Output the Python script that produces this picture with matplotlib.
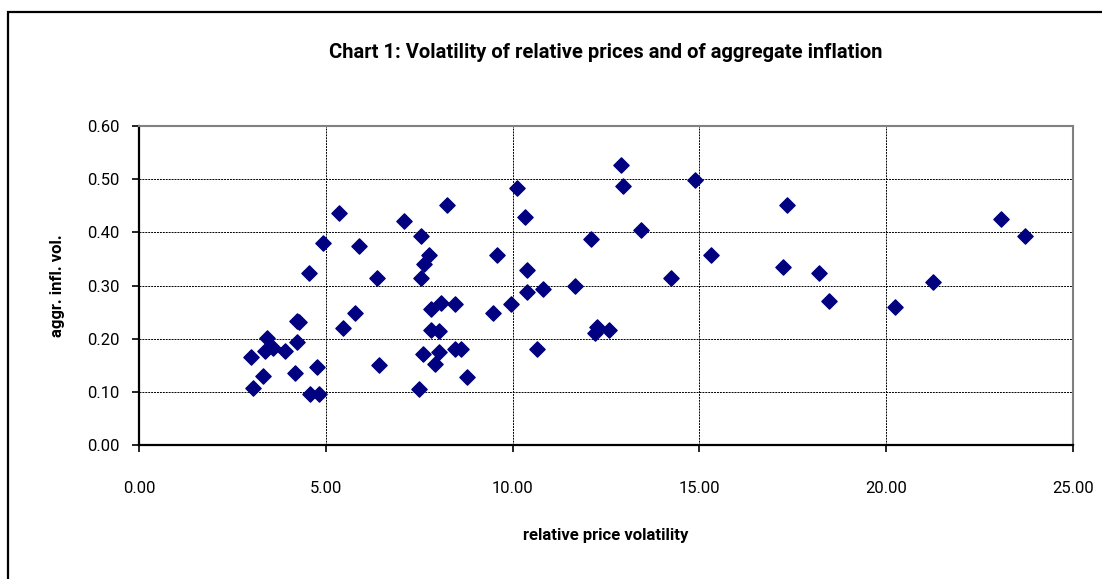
import matplotlib.pyplot as plt
from matplotlib.patches import Rectangle
from matplotlib import font_manager

# relative price volatility vs aggregate inflation volatility
rel_price_vol = [3.00, 3.05, 3.31, 3.36, 3.42, 3.60, 3.91, 4.17, 4.23, 4.22,
                 4.28, 4.55, 4.59, 4.76, 4.82, 4.92, 5.35, 5.45, 5.78, 5.89,
                 6.36, 6.42, 7.10, 7.49, 7.54, 7.55, 7.59, 7.64, 7.77, 7.81,
                 7.81, 8.04, 8.04, 7.91, 8.08, 8.24, 8.46, 8.46, 8.62, 8.77,
                 9.47, 9.58, 9.95, 10.11, 10.33, 10.38, 10.38, 10.64, 10.81, 11.66,
                 12.10, 12.20, 12.25, 12.58, 12.89, 12.95, 13.43, 14.24, 14.88, 15.31,
                 17.34, 17.23, 18.19, 18.46, 20.24, 21.25, 23.06, 23.71]
aggr_infl_vol = [0.165, 0.108, 0.130, 0.177, 0.202, 0.183, 0.177, 0.135, 0.194, 0.233,
                 0.232, 0.323, 0.096, 0.146, 0.096, 0.379, 0.436, 0.221, 0.248, 0.375,
                 0.315, 0.150, 0.421, 0.105, 0.394, 0.315, 0.172, 0.341, 0.358, 0.255,
                 0.217, 0.214, 0.174, 0.153, 0.267, 0.451, 0.266, 0.180, 0.180, 0.128,
                 0.248, 0.357, 0.266, 0.484, 0.428, 0.330, 0.288, 0.180, 0.293, 0.300,
                 0.387, 0.210, 0.222, 0.217, 0.526, 0.488, 0.405, 0.315, 0.499, 0.357,
                 0.451, 0.335, 0.323, 0.270, 0.259, 0.307, 0.425, 0.394]

x_ticks = [0, 5, 10, 15, 20, 25]
y_ticks = [0.0, 0.1, 0.2, 0.3, 0.4, 0.5, 0.6]

names = {f.name for f in font_manager.fontManager.ttflist}
fam = 'Liberation Sans Narrow' if 'Liberation Sans Narrow' in names else 'Roboto'
plt.rcParams['font.family'] = [fam, 'DejaVu Sans']

fig = plt.figure(figsize=(11.02, 5.79), dpi=100)
fig.patches.append(Rectangle((8 / 1102, -0.1), 1.2, 1.1 - 12 / 579,
                             transform=fig.transFigure, fill=False,
                             edgecolor='black', linewidth=1.6))
ax = fig.add_axes([139 / 1102, 1 - 445 / 579, (1073 - 139) / 1102, (445 - 126) / 579])

ax.scatter(rel_price_vol, aggr_infl_vol, marker='D', s=60, color='#000080',
           edgecolors='#000080', zorder=3)

ax.set_xlim(0, 25)
ax.set_ylim(0, 0.6)
ax.set_xticks(x_ticks)
ax.set_yticks(y_ticks)
ax.set_xticklabels([f'{v:.2f}' for v in x_ticks], fontsize=12)
ax.set_yticklabels([f'{v:.2f}' for v in y_ticks], fontsize=12)
ax.tick_params(axis='both', direction='out', length=5, width=1.2, color='black')
ax.tick_params(axis='x', pad=21)
ax.tick_params(axis='y', pad=9)
ax.grid(True, color='black', linestyle=(0, (2, 1)), linewidth=0.7)
ax.set_axisbelow(True)

for s in ['top', 'right']:
    ax.spines[s].set_color('#808080')
    ax.spines[s].set_linewidth(1.5)
for s in ['left', 'bottom']:
    ax.spines[s].set_color('black')
    ax.spines[s].set_linewidth(1.6)

ax.set_xlabel('relative price volatility', fontsize=12, fontweight='bold', labelpad=23)
ax.set_ylabel('aggr. infl. vol.', fontsize=12, fontweight='bold', labelpad=16)
fig.text(606 / 1102, 1 - 52 / 579, 'Chart 1: Volatility of relative prices and of aggregate inflation',
         ha='center', va='center', fontsize=14.5, fontweight='bold')

fig.savefig('out.png', dpi=100)
